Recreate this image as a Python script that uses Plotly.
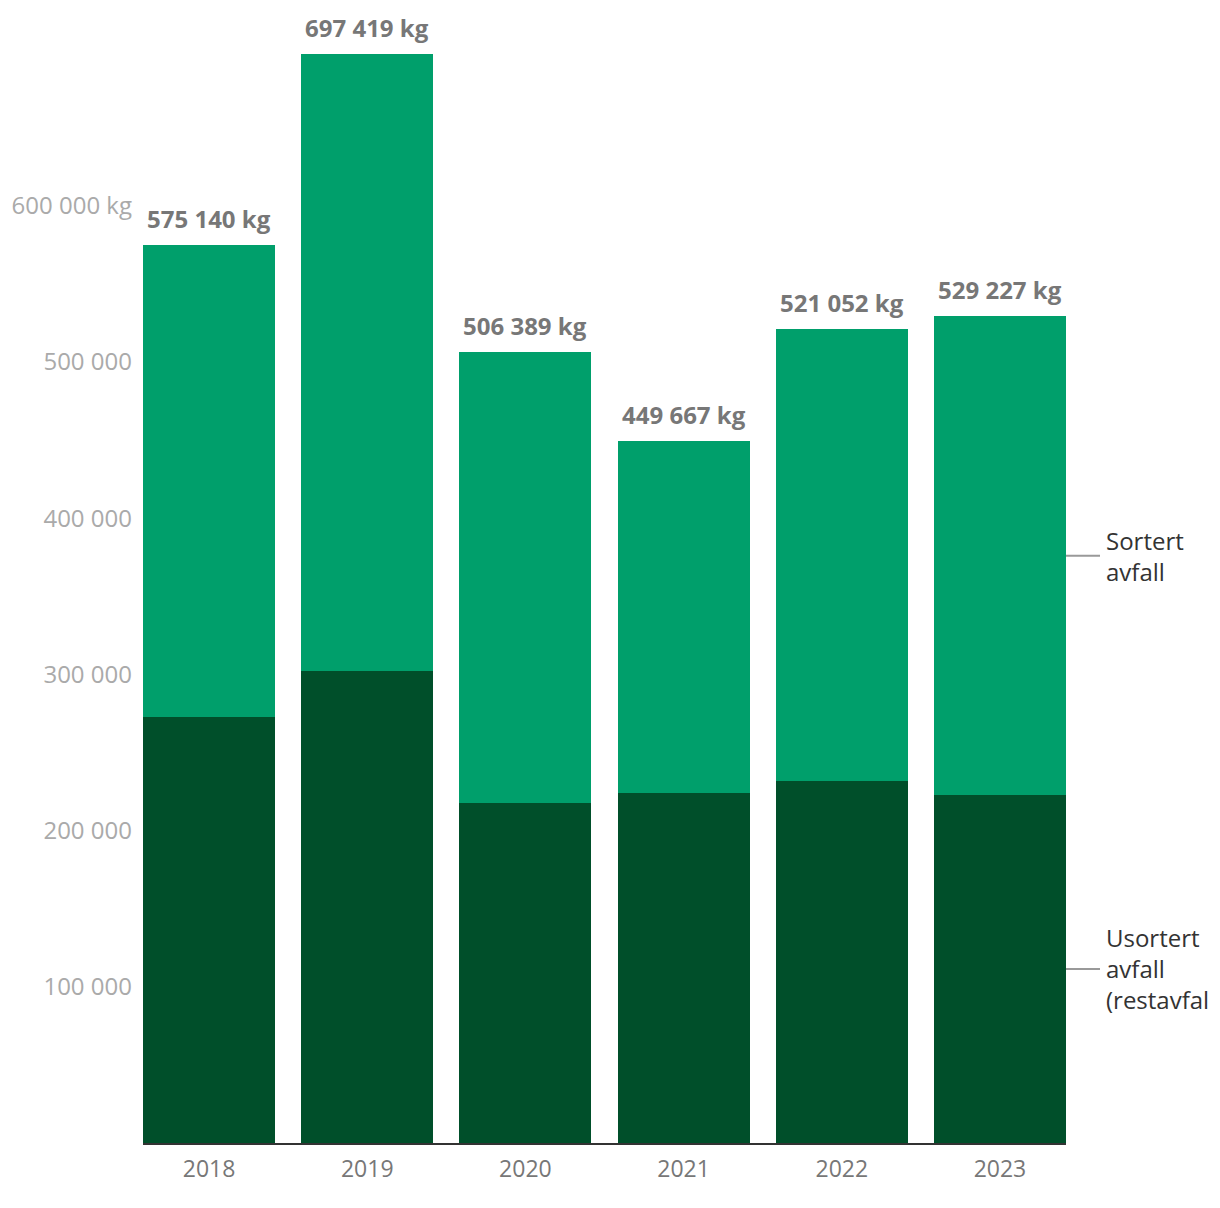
import plotly.graph_objects as go

YEARS = ["2018", "2019", "2020", "2021", "2022", "2023"]
USORTERT = [272700, 302200, 217700, 224100, 231750, 222800]
SORTERT = [302440, 395219, 288689, 225567, 289302, 306427]

Y_TICKS = [100000, 200000, 300000, 400000, 500000, 600000]
Y_TICK_TEXT = ["100 000", "200 000", "300 000", "400 000", "500 000", "600 000 kg"]

LIGHT = "#009f6b"
DARK = "#004f2a"
FONT = "Open Sans"


def fmt_kg(v):
    return f"{v:,}".replace(",", " ") + " kg"


fig = go.Figure()
fig.add_trace(go.Bar(x=YEARS, y=USORTERT, marker=dict(color=DARK, line=dict(width=0)),
                     name="Usortert avfall (restavfall)", hoverinfo="skip"))
fig.add_trace(go.Bar(x=YEARS, y=SORTERT, marker=dict(color=LIGHT, line=dict(width=0)),
                     name="Sortert avfall", hoverinfo="skip"))

totals = [u + s for u, s in zip(USORTERT, SORTERT)]
for i, tot in enumerate(totals):
    fig.add_annotation(xref="x", yref="y", x=i, y=tot, text=f"<b>{fmt_kg(tot)}</b>",
                       showarrow=False, yanchor="bottom", yshift=8,
                       font=dict(family=FONT, size=24, color="#777777"))

# series labels beside the last bar
last_u, last_s = USORTERT[-1], SORTERT[-1]
labels = [
    (last_u / 2, "Usortert<br>avfall<br>(restavfall)"),
    (last_u + last_s / 2, "Sortert<br>avfall"),
]
for yv, txt in labels:
    fig.add_shape(type="line", xref="paper", x0=1.0, x1=1 + 34 / 923, y0=yv, y1=yv,
                  line=dict(color="#999999", width=2))
    fig.add_annotation(xref="paper", x=1.0, y=yv, xshift=38, text=txt, showarrow=False,
                       xanchor="left", align="left",
                       font=dict(family=FONT, size=24, color="#333333"))

fig.update_layout(
    barmode="stack",
    bargap=0.165,
    showlegend=False,
    width=1210,
    height=1208,
    margin=dict(l=143, r=144, t=40, b=65),
    plot_bgcolor="white",
    paper_bgcolor="white",
    font=dict(family=FONT),
    xaxis=dict(
        type="category",
        range=[-0.4175, 5.4175],
        showline=True, linecolor="#333333", linewidth=2,
        showgrid=False, ticks="", ticklabelstandoff=4,
        tickfont=dict(family=FONT, size=23, color="#777777"),
    ),
    yaxis=dict(
        range=[0, 706150],
        tickvals=Y_TICKS, ticktext=Y_TICK_TEXT,
        showgrid=False, zeroline=False, showline=False, ticks="",
        ticklabelstandoff=10,
        tickfont=dict(family=FONT, size=24, color="#aaaaaa"),
    ),
)

fig.write_html("out.html", config={"displayModeBar": False},
               post_script="document.body.style.margin='0';")
